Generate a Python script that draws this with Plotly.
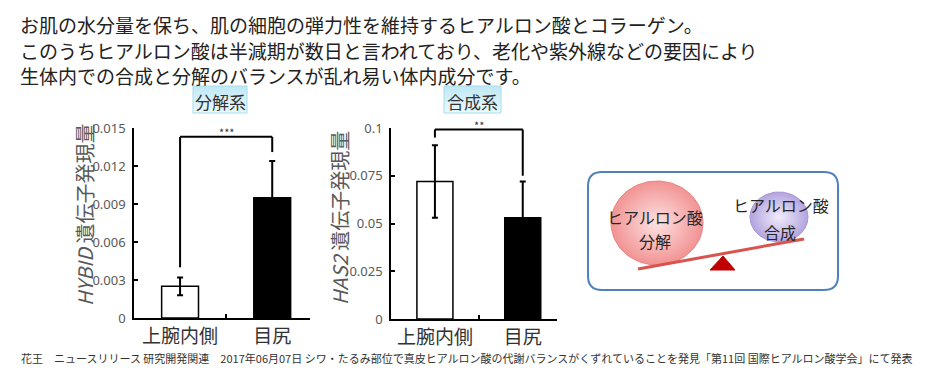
import numpy as np
import plotly.graph_objects as go

# ---------------- data ----------------
categories = ["上腕内側", "目尻"]
hybid_values = [0.0025, 0.0095]
hybid_errors = [0.0007, 0.0029]
has2_values = [0.072, 0.053]
has2_errors = [0.019, 0.019]
hybid_ticks = [0, 0.003, 0.006, 0.009, 0.012, 0.015]
hybid_ticktext = ["0", "0.003", "0.006", "0.009", "0.012", "0.015"]
has2_ticks = [0, 0.025, 0.05, 0.075, 0.1]
has2_ticktext = ["0", "0.025", "0.05", "0.075", "0.1"]
hybid_sig = "***"
has2_sig = "**"

intro_lines = [
    "お肌の水分量を保ち、肌の細胞の弾力性を維持するヒアルロン酸とコラーゲン。",
    "このうちヒアルロン酸は半減期が数日と言われており、老化や紫外線などの要因により",
    "生体内での合成と分解のバランスが乱れ易い体内成分です。",
]
source_text = ("花王　ニュースリリース 研究開発関連　2017年06月07日 シワ・たるみ部位で真皮ヒアルロン酸の"
               "代謝バランスがくずれていることを発見「第11回 国際ヒアルロン酸学会」にて発表")

W, H = 940, 380
FONT = "Noto Sans CJK JP"

fig = go.Figure()

bar_colors = ["white", "black"]

fig.add_trace(go.Bar(
    x=categories, y=hybid_values, xaxis="x", yaxis="y", width=0.40,
    marker=dict(color=bar_colors, line=dict(color="black", width=1.5)),
    error_y=dict(type="data", array=hybid_errors, color="black", thickness=2, width=3),
    hoverinfo="skip"))
fig.add_trace(go.Bar(
    x=categories, y=has2_values, xaxis="x2", yaxis="y2", width=0.41,
    marker=dict(color=bar_colors, line=dict(color="black", width=1.5)),
    error_y=dict(type="data", array=has2_errors, color="black", thickness=2, width=3),
    hoverinfo="skip"))


def px(v):
    return v / W


def py(v):
    return 1 - v / H


axis_common = dict(showgrid=False, zeroline=False, showline=True, linecolor="black",
                   linewidth=1.5, ticks="inside", ticklen=4, tickwidth=1.5, tickcolor="black",
                   automargin=False)

fig.update_layout(
    width=W, height=H, margin=dict(l=0, r=0, t=0, b=0, pad=0, autoexpand=False), autosize=False,
    paper_bgcolor="white", plot_bgcolor="rgba(0,0,0,0)", showlegend=False,
    font=dict(family=FONT, color="#333"),
    xaxis=dict(domain=[px(134), px(310)], anchor="y", type="category", range=[-0.5, 1.41],
               tickson="boundaries", tickfont=dict(size=19, color="#333"), **axis_common),
    yaxis=dict(domain=[py(318), py(128)], anchor="x", range=[0, 0.015],
               tickvals=hybid_ticks, ticktext=hybid_ticktext, ticklabelstandoff=4,
               tickfont=dict(size=13, color="#595959", family="Noto Sans"), **axis_common),
    xaxis2=dict(domain=[px(391), px(557)], anchor="y2", type="category", range=[-0.5, 1.39],
                tickson="boundaries", tickfont=dict(size=19, color="#333"), **axis_common),
    yaxis2=dict(domain=[py(319), py(128)], anchor="x2", range=[0, 0.1],
                tickvals=has2_ticks, ticktext=has2_ticktext, ticklabelstandoff=4,
                tickfont=dict(size=13, color="#595959", family="Noto Sans"), **axis_common),
    xaxis3=dict(domain=[0, 1], anchor="y3", range=[0, W], visible=False, fixedrange=True,
                automargin=False),
    yaxis3=dict(domain=[0, 1], anchor="x3", range=[H, 0], visible=False, fixedrange=True,
                automargin=False),
)

shapes = []
annotations = []


def bracket(xr, yr, left_base, right_base, top, label):
    lw = 2
    shapes.append(dict(type="line", xref=xr, yref=yr, x0=0, x1=0, y0=left_base, y1=top,
                       line=dict(color="black", width=lw)))
    shapes.append(dict(type="line", xref=xr, yref=yr, x0=0, x1=1, y0=top, y1=top,
                       line=dict(color="black", width=lw)))
    shapes.append(dict(type="line", xref=xr, yref=yr, x0=1, x1=1, y0=right_base, y1=top,
                       line=dict(color="black", width=lw)))
    annotations.append(dict(xref=xr, yref=yr, x=0.5, y=top, text=label, showarrow=False,
                            yanchor="bottom", yshift=-4, borderpad=0,
                            font=dict(size=11, color="#333")))


bracket("x", "y", hybid_values[0] + hybid_errors[0] + 0.0008,
        hybid_values[1] + hybid_errors[1] + 0.0007, 0.0143, hybid_sig)
bracket("x2", "y2", has2_values[0] + has2_errors[0] + 0.004,
        has2_values[1] + has2_errors[1] + 0.003, 0.0992, has2_sig)

annotations.append(dict(xref="x3", yref="y3", x=84, y=215, textangle=-90, showarrow=False,
                        text="<i>HYBID</i> 遺伝子発現量", font=dict(size=20, color="#595959")))
annotations.append(dict(xref="x3", yref="y3", x=339, y=218, textangle=-90, showarrow=False,
                        text="<i>HAS2</i> 遺伝子発現量", font=dict(size=20, color="#595959")))

for line, yy in zip(intro_lines, [24, 50, 75]):
    annotations.append(dict(xref="x3", yref="y3", x=19, y=yy, xanchor="left", yanchor="middle",
                            text=line, showarrow=False, borderpad=0,
                            font=dict(size=19, color="#222")))

annotations.append(dict(xref="x3", yref="y3", x=19, y=358, xanchor="left", yanchor="middle",
                        text=source_text, showarrow=False, font=dict(size=11, color="#333")))


def label_box(x0, x1, y0, y1, text):
    fig.add_trace(go.Scatter(
        x=[x0, x1, x1, x0, x0], y=[y0, y0, y1, y1, y0], xaxis="x3", yaxis="y3",
        mode="lines", fill="toself", line=dict(color="#a6dcec", width=1),
        fillgradient=dict(type="vertical", colorscale=[[0, "#eafafe"], [1, "#bfe8f4"]]),
        hoverinfo="skip"))
    annotations.append(dict(xref="x3", yref="y3", x=(x0 + x1) / 2, y=(y0 + y1) / 2 + 2,
                            text=text, showarrow=False, borderpad=0,
                            font=dict(size=17, color="#333")))


label_box(193, 247, 86, 113, "分解系")
label_box(444, 501, 86, 113, "合成系")

bx0, bx1, by0, by1, r = 588, 838, 172, 290, 14
path = (f"M {bx0+r},{by0} L {bx1-r},{by0} Q {bx1},{by0} {bx1},{by0+r} "
        f"L {bx1},{by1-r} Q {bx1},{by1} {bx1-r},{by1} L {bx0+r},{by1} "
        f"Q {bx0},{by1} {bx0},{by1-r} L {bx0},{by0+r} Q {bx0},{by0} {bx0+r},{by0} Z")
shapes.append(dict(type="path", xref="x3", yref="y3", path=path, fillcolor="white",
                   line=dict(color="#4f81bd", width=2), layer="below"))

t = np.linspace(0, 2 * np.pi, 120)


def ellipse(cx, cy, rx, ry, inner, outer, edge):
    fig.add_trace(go.Scatter(
        x=cx + rx * np.cos(t), y=cy + ry * np.sin(t), xaxis="x3", yaxis="y3",
        mode="lines", fill="toself", line=dict(color=edge, width=1),
        fillgradient=dict(type="radial", colorscale=[[0, inner], [1, outer]]),
        hoverinfo="skip"))


ellipse(657, 223, 46, 42, "#fde2e2", "#f29393", "#e68585")
ellipse(779, 217, 29, 25, "#f1ecfb", "#b3a4df", "#a898d6")

shapes.append(dict(type="path", xref="x3", yref="y3", path="M 710,270 L 723,256 L 735,270 Z",
                   fillcolor="#c00000", line=dict(color="#c00000", width=1), layer="above"))
shapes.append(dict(type="line", xref="x3", yref="y3", x0=638, y0=269, x1=804, y1=239,
                   line=dict(color="#d9534f", width=3), layer="above"))

annotations += [
    dict(xref="x3", yref="y3", x=655, y=217, text="ヒアルロン酸", showarrow=False,
         font=dict(size=16, color="#262626")),
    dict(xref="x3", yref="y3", x=655, y=241, text="分解", showarrow=False,
         font=dict(size=16, color="#262626")),
    dict(xref="x3", yref="y3", x=781, y=205, text="ヒアルロン酸", showarrow=False,
         font=dict(size=16, color="#262626")),
    dict(xref="x3", yref="y3", x=780, y=232, text="合成", showarrow=False,
         font=dict(size=16, color="#262626")),
]

fig.update_layout(shapes=shapes, annotations=annotations)

fig.write_html("out.html", config={"displayModeBar": False, "responsive": False},
               post_script="document.documentElement.style.margin='0';"
                           "document.body.style.margin='0';document.body.style.padding='0';")
